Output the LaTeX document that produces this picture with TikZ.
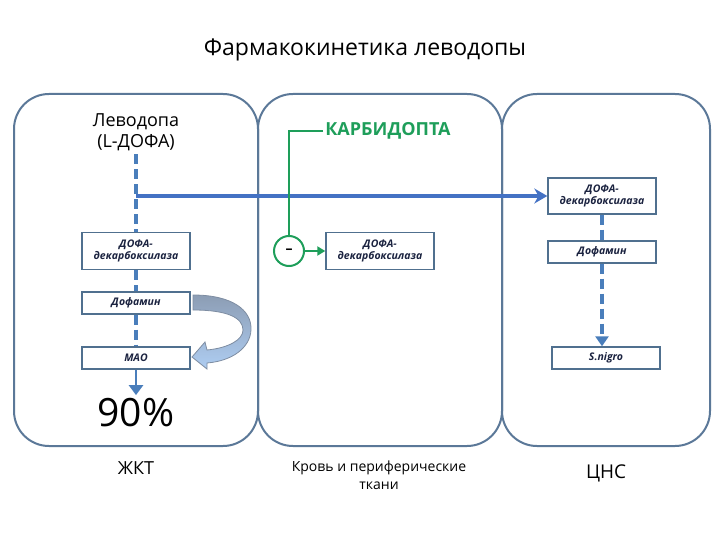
\documentclass[tikz,border=0pt]{standalone}
\usepackage{fontspec}
\setmainfont{Open Sans}
\usepackage{tikz}
\usetikzlibrary{arrows.meta}
\definecolor{frame}{HTML}{5B7898}
\definecolor{boxline}{HTML}{50708F}
\definecolor{dashblue}{HTML}{4A7EBB}
\definecolor{mainblue}{HTML}{4472C4}
\definecolor{inkgreen}{HTML}{1E9E5A}
\definecolor{navy}{HTML}{1B2340}
\definecolor{bandtop}{HTML}{8C9DB4}
\definecolor{bandbot}{HTML}{AECDF2}
\tikzset{frm/.style={draw=frame,line width=2pt,rounded corners=35pt},
  sbox/.style={draw=boxline,line width=1.4pt,fill=white,minimum width=108pt,minimum height=22pt,inner sep=1pt,align=center,text=navy,font=\bfseries\itshape\fontsize{10.5}{12}\selectfont},
  lbl/.style={align=center,font=\fontsize{18}{21}\selectfont},
  dsh/.style={draw=dashblue,line width=4pt,dash pattern=on 10pt off 5pt},
  inh/.style={draw=inkgreen,line width=2pt}}

\begin{document}
\begin{tikzpicture}[x=1pt,y=-1pt]
\useasboundingbox (0,0) rectangle (720,540);
\foreach \a/\b in {14/258,258/502,502/710}{\draw[frm] (\a,94) rectangle (\b,446);}
\node[font=\fontsize{23}{27}\selectfont] (title) at (365,50) {Фармакокинетика леводопы};
\node[lbl] (levo) at (136,132) {Леводопа\\(L-ДОФА)};
\node[font=\bfseries\fontsize{18}{21}\selectfont,text=inkgreen,inner sep=2pt] (karb) at (388,131) {КАРБИДОПТА};
% boxes
\node[sbox,minimum height=37pt] (dd1) at (136,251) {ДОФА-\\декарбоксилаза};
\node[sbox,minimum height=37pt] (dd2) at (380,251) {ДОФА-\\декарбоксилаза};
\node[sbox,minimum height=36pt] (dd3) at (602,196) {ДОФА-\\декарбоксилаза};
\node[sbox] (dof1) at (136,303) {Дофамин};
\node[sbox] (mao) at (136,358) {МАО};
\node[sbox] (dof3) at (602,252) {Дофамин};
\node[sbox] (snig) at (606,358) {S.nigro};
\node[circle,draw=inkgreen,line width=2pt,minimum size=30pt,inner sep=0pt,font=\bfseries\fontsize{14}{14}\selectfont] (inhib) at (289,251) {–};
\node[font=\fontsize{39}{44}\selectfont] (pct) at (136,413) {90\%};
\node[font=\fontsize{18}{21}\selectfont] (zkt) at (136,468) {ЖКТ};
\node[align=center,font=\fontsize{14}{18}\selectfont] (krov) at (379,475) {Кровь и периферические\\ткани};
\node[font=\fontsize{19}{22}\selectfont] (cns) at (606,473) {ЦНС};
% connectors
\draw[dsh] (levo.south) -- (dd1.north);
\draw[mainblue,line width=4pt,-{Stealth[length=13pt,width=15pt]}] (levo.south |- dd3.west) -- (dd3.west);
\draw[inh] (karb.west) -| (inhib.north);
\draw[inh,-{Triangle[length=8pt,width=9pt]}] (inhib.east) -- (dd2.west);
\draw[dsh] (dd1.south) -- (dof1.north);
\draw[dsh] (dof1.south) -- (mao.north);
\draw[dashblue,line width=2.5pt,-{Triangle[length=10pt,width=14pt]}] (mao.south) -- (pct.north);
\draw[dsh] (dd3.south) -- (dof3.north);
\draw[dsh,-{Triangle[length=10pt,width=13pt]}] (dof3.south) -- (dof3.south |- snig.north);
% curved block arrow
\path[draw=bandtop!90!black,line width=0.8pt,top color=bandtop,bottom color=bandbot]
  (193,295) .. controls (232,295) and (252,310) .. (251,330)
  .. controls (250,348) and (232,361) .. (207,363) -- (207,369) -- (192,357) -- (205,342) -- (207,350)
  .. controls (228,348) and (243,340) .. (243,330) .. controls (243,318) and (228,310) .. (193,310) -- cycle;
\end{tikzpicture}
\end{document}
